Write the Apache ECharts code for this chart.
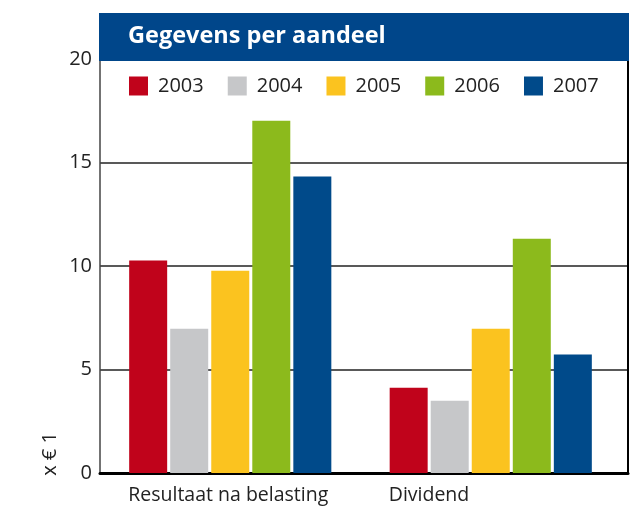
<!DOCTYPE html>
<html>
<head>
<meta charset="utf-8">
<script src="https://cdn.jsdelivr.net/npm/echarts@6/dist/echarts.min.js"></script>
<style>
  html, body { margin: 0; padding: 0; background: #fff; }
  #chart { width: 640px; height: 512px; }
</style>
</head>
<body>
<div id="chart"></div>
<script>
const categories = ['Resultaat na belasting', 'Dividend']
const years = ['2003', '2004', '2005', '2006', '2007']
const values2003 = [10.26, 4.12]
const values2004 = [6.97, 3.49]
const values2005 = [9.77, 6.97]
const values2006 = [17.02, 11.32]
const values2007 = [14.32, 5.72]
const yTicks = [0, 5, 10, 15, 20]

const colors = ['#c0031b', '#c6c7c9', '#fbc31f', '#8cba1c', '#004a8a']
const seriesValues = [values2003, values2004, values2005, values2006, values2007]
const font = '"Open Sans", "DejaVu Sans", sans-serif'

const myChart = echarts.init(document.getElementById('chart'))

const option = {
  animation: false,
  textStyle: { fontFamily: font },
  title: {
    text: 'Gegevens per aandeel',
    left: 123,
    top: 19,
    z: 20,
    textStyle: { color: '#fff', fontSize: 23.5, fontWeight: 'bold', fontFamily: font }
  },
  legend: {
    data: years,
    left: 124,
    top: 71,
    icon: 'rect',
    itemWidth: 19,
    itemHeight: 19,
    itemGap: 24,
    textStyle: { fontSize: 20, color: '#222', padding: [0, 0, 0, 5], fontFamily: font }
  },
  graphic: [
    {
      type: 'rect',
      z: 10,
      shape: { x: 99, y: 13, width: 530, height: 48 },
      style: { fill: '#00468a' }
    },
    {
      type: 'text',
      z: 10,
      x: 50,
      y: 454,
      rotation: Math.PI / 2,
      style: {
        text: 'x € 1',
        fontSize: 20,
        fontFamily: font,
        fill: '#222',
        align: 'center',
        verticalAlign: 'middle'
      }
    }
  ],
  grid: [
    { left: 100, right: 12, top: 59, bottom: 39 },
    { left: 100, right: 19, top: 59, bottom: 39 }
  ],
  xAxis: [
    {
      gridIndex: 0,
      type: 'category',
      data: categories,
      axisLine: { lineStyle: { color: '#000', width: 3 } },
      axisTick: { show: false },
      axisLabel: { show: false }
    },
    {
      gridIndex: 1,
      type: 'category',
      data: categories,
      axisLine: { show: false },
      axisTick: { show: false },
      axisLabel: {
        margin: 12,
        formatter: v => '{a|' + v + '}',
        rich: {
          a: { width: 204, align: 'left', fontSize: 19.5, color: '#222', fontFamily: font }
        }
      }
    }
  ],
  yAxis: [
    {
      gridIndex: 0,
      type: 'value',
      min: yTicks[0],
      max: yTicks[yTicks.length - 1],
      interval: 5,
      axisLine: { show: true, lineStyle: { color: '#444', width: 1.5 } },
      axisTick: { show: false },
      axisLabel: { fontSize: 20, color: '#222', margin: 8, fontFamily: font },
      splitLine: { lineStyle: { color: '#222', width: 1.5 } }
    },
    {
      gridIndex: 0,
      type: 'value',
      position: 'right',
      min: yTicks[0],
      max: yTicks[yTicks.length - 1],
      interval: 5,
      axisLine: { show: true, lineStyle: { color: '#000', width: 2 } },
      axisTick: { show: false },
      axisLabel: { show: false },
      splitLine: { show: false }
    },
    {
      gridIndex: 1,
      type: 'value',
      min: yTicks[0],
      max: yTicks[yTicks.length - 1],
      interval: 5,
      show: false
    }
  ],
  series: years.map((y, i) => ({
    name: y,
    type: 'bar',
    xAxisIndex: 1,
    yAxisIndex: 2,
    data: seriesValues[i],
    barWidth: 38,
    barGap: '8%',
    itemStyle: { color: colors[i] }
  }))
}

option && myChart.setOption(option)
</script>
</body>
</html>
